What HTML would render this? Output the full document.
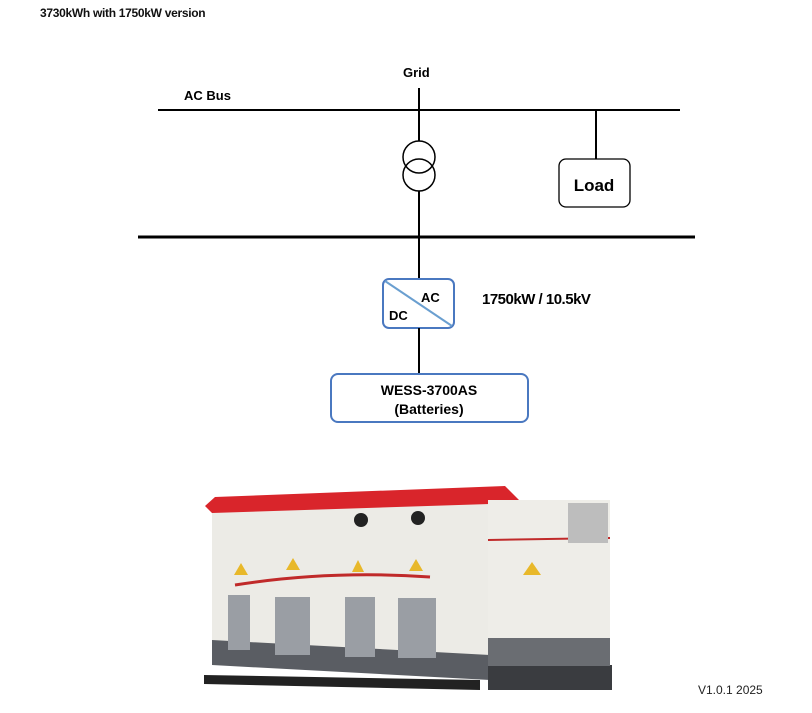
<!DOCTYPE html>
<html><head><style>
body{margin:0;background:#fff;width:812px;height:713px;overflow:hidden;font-family:"Liberation Sans",sans-serif}
svg{position:absolute;left:0;top:0}
</style></head><body>
<svg width="812" height="713" viewBox="0 0 812 713" font-family="Liberation Sans, sans-serif">
<text x="40" y="17" font-size="12" font-weight="bold" letter-spacing="-0.3" fill="#111">3730kWh with 1750kW version</text>
<text x="403" y="77" font-size="13" font-weight="bold">Grid</text>
<text x="184" y="100" font-size="13" font-weight="bold">AC Bus</text>
<line x1="158" y1="110" x2="680" y2="110" stroke="#000" stroke-width="2"/>
<line x1="419" y1="88" x2="419" y2="141" stroke="#000" stroke-width="2"/>
<circle cx="419" cy="157" r="16" fill="none" stroke="#000" stroke-width="1.5"/>
<circle cx="419" cy="175" r="16" fill="none" stroke="#000" stroke-width="1.5"/>
<line x1="419" y1="191" x2="419" y2="279" stroke="#000" stroke-width="2"/>
<line x1="596" y1="110" x2="596" y2="159" stroke="#000" stroke-width="2"/>
<rect x="559" y="159" width="71" height="48" rx="7" fill="#fff" stroke="#000" stroke-width="1.3"/>
<text x="594" y="191" font-size="17" font-weight="bold" text-anchor="middle">Load</text>
<line x1="138" y1="237" x2="695" y2="237" stroke="#000" stroke-width="3"/>
<rect x="383" y="279" width="71" height="49" rx="6" fill="#fff" stroke="#4a78c0" stroke-width="2"/>
<line x1="385" y1="281" x2="452" y2="326" stroke="#6a9fd0" stroke-width="2"/>
<text x="421" y="302" font-size="13" font-weight="bold">AC</text>
<text x="389" y="320" font-size="13" font-weight="bold">DC</text>
<text x="482" y="304" font-size="15" font-weight="bold" letter-spacing="-0.5">1750kW / 10.5kV</text>
<line x1="419" y1="328" x2="419" y2="374" stroke="#000" stroke-width="2"/>
<rect x="331" y="374" width="197" height="48" rx="7" fill="#fff" stroke="#4a78c0" stroke-width="2"/>
<text x="429" y="395" font-size="14" font-weight="bold" text-anchor="middle">WESS-3700AS</text>
<text x="429" y="414" font-size="14" font-weight="bold" text-anchor="middle">(Batteries)</text>
<polygon points="204,675 480,680 480,690 204,684" fill="#222"/>
<polygon points="212,502 490,500 490,662 212,650" fill="#ecebe6"/>
<polygon points="212,640 490,655 490,680 212,665" fill="#5a5d63"/>
<polygon points="205,506 215,497 505,486 522,503 212,513" fill="#d9252b"/>
<path d="M235,585 Q330,570 430,577" stroke="#c02a2a" stroke-width="3" fill="none"/>
<rect x="228" y="595" width="22" height="55" fill="#9a9ea4"/>
<rect x="275" y="597" width="35" height="58" fill="#9a9ea4"/>
<rect x="345" y="597" width="30" height="60" fill="#9a9ea4"/>
<rect x="398" y="598" width="38" height="60" fill="#9a9ea4"/>
<circle cx="361" cy="520" r="7" fill="#222"/>
<circle cx="418" cy="518" r="7" fill="#222"/>
<rect x="488" y="500" width="122" height="175" fill="#eeede8"/>
<rect x="488" y="665" width="124" height="25" fill="#3a3c40"/>
<rect x="488" y="638" width="122" height="28" fill="#6a6d72"/>
<line x1="488" y1="540" x2="610" y2="538" stroke="#c02a2a" stroke-width="2"/>
<rect x="568" y="503" width="40" height="40" fill="#bdbdbd"/>
<polygon points="523,575 532,562 541,575" fill="#e8b82a"/>
<polygon points="234,575 241,563 248,575" fill="#e8b82a"/>
<polygon points="286,570 293,558 300,570" fill="#e8b82a"/>
<polygon points="352,572 358,560 364,572" fill="#e8b82a"/>
<polygon points="409,571 416,559 423,571" fill="#e8b82a"/>
<text x="698" y="694" font-size="12" fill="#222">V1.0.1 2025</text>
</svg>
</body></html>
